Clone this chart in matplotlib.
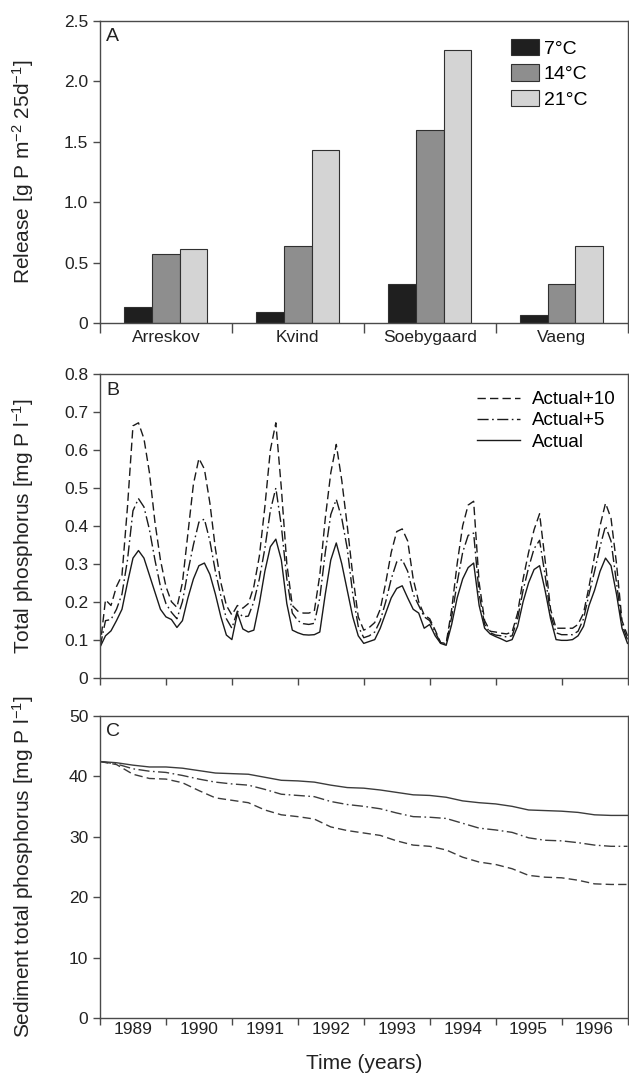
import numpy as np
import matplotlib
matplotlib.use("Agg")
import matplotlib.pyplot as plt
from matplotlib.patches import Patch
from matplotlib.lines import Line2D

plt.rcParams['font.family'] = ['Liberation Sans', 'DejaVu Sans']
plt.rcParams['mathtext.default'] = 'regular'

# ---- Panel A: phosphorus release per lake and temperature ----
lakes = ["Arreskov", "Kvind", "Soebygaard", "Vaeng"]
temps = ["7°C", "14°C", "21°C"]
release_7 = [0.13, 0.094, 0.319, 0.066]
release_14 = [0.567, 0.639, 1.600, 0.322]
release_21 = [0.611, 1.432, 2.258, 0.636]

# ---- Panel B: monthly lake total phosphorus, Jan 1989 .. Jan 1997 ----
tp_actual = [
    0.080, 0.110, 0.123, 0.150, 0.180, 0.250, 0.315, 0.335, 0.315, 0.270, 0.225, 0.180,
    0.160, 0.153, 0.132, 0.150, 0.210, 0.260, 0.295, 0.302, 0.272, 0.220, 0.160, 0.112,
    0.100, 0.170, 0.128, 0.120, 0.125, 0.195, 0.280, 0.345, 0.365, 0.310, 0.195, 0.125,
    0.118, 0.113, 0.112, 0.113, 0.120, 0.220, 0.310, 0.355, 0.300, 0.230, 0.160, 0.110,
    0.090, 0.095, 0.100, 0.130, 0.170, 0.210, 0.235, 0.242, 0.210, 0.180, 0.170, 0.130,
    0.140, 0.110, 0.090, 0.085, 0.140, 0.210, 0.260, 0.290, 0.302, 0.190, 0.130, 0.115,
    0.108, 0.102, 0.095, 0.100, 0.135, 0.200, 0.250, 0.285, 0.295, 0.230, 0.155, 0.100,
    0.098, 0.098, 0.100, 0.110, 0.135, 0.190, 0.230, 0.280, 0.315, 0.295, 0.220, 0.130,
    0.090,
]
tp_plus5 = [
    0.080, 0.150, 0.153, 0.180, 0.220, 0.310, 0.440, 0.472, 0.450, 0.390, 0.310, 0.240,
    0.195, 0.172, 0.155, 0.200, 0.280, 0.350, 0.410, 0.418, 0.360, 0.280, 0.215, 0.155,
    0.130, 0.175, 0.160, 0.162, 0.200, 0.260, 0.340, 0.440, 0.500, 0.400, 0.260, 0.170,
    0.150, 0.142, 0.140, 0.143, 0.210, 0.330, 0.430, 0.470, 0.420, 0.340, 0.220, 0.135,
    0.105, 0.110, 0.120, 0.150, 0.200, 0.260, 0.305, 0.311, 0.280, 0.220, 0.190, 0.160,
    0.150, 0.120, 0.090, 0.088, 0.160, 0.250, 0.330, 0.375, 0.381, 0.220, 0.140, 0.118,
    0.112, 0.110, 0.107, 0.110, 0.155, 0.230, 0.290, 0.340, 0.362, 0.270, 0.165, 0.118,
    0.113, 0.113, 0.113, 0.122, 0.155, 0.220, 0.280, 0.345, 0.400, 0.360, 0.250, 0.140,
    0.100,
]
tp_plus10 = [
    0.080, 0.205, 0.190, 0.240, 0.270, 0.450, 0.664, 0.672, 0.630, 0.540, 0.410, 0.310,
    0.240, 0.200, 0.185, 0.250, 0.380, 0.510, 0.578, 0.550, 0.460, 0.340, 0.250, 0.190,
    0.165, 0.190, 0.183, 0.195, 0.240, 0.320, 0.450, 0.600, 0.672, 0.500, 0.300, 0.190,
    0.175, 0.170, 0.170, 0.175, 0.270, 0.420, 0.540, 0.615, 0.520, 0.400, 0.270, 0.160,
    0.125, 0.132, 0.145, 0.180, 0.250, 0.330, 0.385, 0.392, 0.360, 0.260, 0.200, 0.165,
    0.155, 0.125, 0.092, 0.090, 0.180, 0.300, 0.400, 0.455, 0.465, 0.250, 0.150, 0.122,
    0.120, 0.117, 0.115, 0.120, 0.170, 0.260, 0.330, 0.390, 0.432, 0.310, 0.180, 0.130,
    0.130, 0.130, 0.130, 0.140, 0.170, 0.240, 0.320, 0.400, 0.460, 0.420, 0.300, 0.150,
    0.110,
]
months = 1989 + np.arange(len(tp_actual)) / 12.0

# ---- Panel C: quarterly sediment total phosphorus ----
sed_actual = [42.4, 42.2, 41.8, 41.5, 41.5, 41.3, 40.9, 40.5, 40.4, 40.3, 39.8, 39.3,
              39.2, 39.0, 38.5, 38.1, 38.0, 37.7, 37.3, 36.9, 36.8, 36.5, 35.9, 35.6,
              35.4, 35.0, 34.4, 34.3, 34.2, 34.0, 33.6, 33.5, 33.5]
sed_plus5 = [42.4, 42.0, 41.2, 40.8, 40.6, 40.1, 39.5, 39.0, 38.7, 38.5, 37.8, 37.0,
             36.8, 36.6, 35.8, 35.3, 35.0, 34.6, 33.9, 33.3, 33.2, 33.0, 32.2, 31.4,
             31.1, 30.7, 29.8, 29.4, 29.3, 29.0, 28.6, 28.4, 28.4]
sed_plus10 = [42.4, 41.9, 40.3, 39.6, 39.5, 38.9, 37.6, 36.4, 36.0, 35.6, 34.4, 33.6,
              33.3, 32.9, 31.6, 31.0, 30.6, 30.2, 29.3, 28.6, 28.4, 27.8, 26.6, 25.8,
              25.4, 24.7, 23.6, 23.3, 23.2, 22.8, 22.2, 22.1, 22.1]
quarters = 1989 + np.arange(len(sed_actual)) / 4.0

years = list(range(1989, 1997))
scenario_labels = ["Actual+10", "Actual+5", "Actual"]

# ---- styling ----
W, H = 629, 1076
fig = plt.figure(figsize=(W / 100, H / 100), dpi=100)
spine_col = '#4a4a4a'
text_col = '#222222'
tick_fs = 12.5
label_fs = 15
ylabel_x = -0.122
dash_style = (0, (6, 3))
dashdot_style = (0, (8, 2.5, 1.2, 2.5))


def make_axes(top_px, bottom_px):
    left = 100 / W
    width = 527.5 / W
    return fig.add_axes([left, 1 - bottom_px / H, width, (bottom_px - top_px) / H])


def style_axes(ax):
    for s in ax.spines.values():
        s.set_color(spine_col)
        s.set_linewidth(1.0)
    ax.tick_params(which='major', direction='out', length=5, width=1.0,
                   color=spine_col, labelsize=tick_fs, labelcolor=text_col)


# Panel A
axA = make_axes(20.7, 323)
x = np.arange(len(lakes))
bw = 0.21
bar_colors = ['#1f1f1f', '#8e8e8e', '#d4d4d4']
for k, (vals, col) in enumerate(zip([release_7, release_14, release_21], bar_colors)):
    axA.bar(x + (k - 1) * bw, vals, width=bw, color=col, edgecolor='#303030',
            linewidth=0.8, label=temps[k], zorder=2)
axA.set_xlim(-0.5, len(lakes) - 0.5)
axA.set_ylim(0, 2.5)
axA.set_yticks([0, 0.5, 1.0, 1.5, 2.0, 2.5])
axA.set_yticklabels(['0', '0.5', '1.0', '1.5', '2.0', '2.5'])
axA.set_xticks(np.arange(len(lakes) + 1) - 0.5)
axA.set_xticklabels([])
axA.set_xticks(x, minor=True)
axA.set_xticklabels(lakes, minor=True)
style_axes(axA)
axA.tick_params(axis='x', which='major', length=7)
axA.tick_params(axis='x', which='minor', length=0, pad=5, labelsize=tick_fs,
                labelcolor=text_col)
axA.set_ylabel('Release [g P m$^{-2}$ 25d$^{-1}$]', fontsize=label_fs, color=text_col)
axA.yaxis.set_label_coords(ylabel_x, 0.5)
axA.text(0.012, 0.975, 'A', transform=axA.transAxes, fontsize=14, va='top',
         ha='left', color=text_col)
handlesA = [Patch(facecolor=c, edgecolor='#303030', linewidth=0.8) for c in bar_colors]
axA.legend(handlesA, temps, loc='upper left', bbox_to_anchor=(0.78, 0.94),
           frameon=False, fontsize=14, handlelength=1.4, handleheight=0.9,
           labelspacing=0.35, handletextpad=0.25, borderpad=0, borderaxespad=0)

# Panel B
axB = make_axes(374.3, 677.5)
line_col = '#1a1a1a'
axB.plot(months, tp_plus10, color=line_col, lw=1.0, linestyle=dash_style)
axB.plot(months, tp_plus5, color=line_col, lw=1.0, linestyle=dashdot_style)
axB.plot(months, tp_actual, color=line_col, lw=1.0, linestyle='-')
axB.set_xlim(1989, 1997)
axB.set_ylim(0, 0.8)
axB.set_yticks(np.arange(0, 0.81, 0.1))
axB.set_yticklabels(['0'] + ['%.1f' % v for v in np.arange(0.1, 0.81, 0.1)])
axB.set_xticks(range(1989, 1998))
axB.set_xticklabels([])
style_axes(axB)
axB.set_ylabel('Total phosphorus [mg P l$^{-1}$]', fontsize=label_fs, color=text_col)
axB.yaxis.set_label_coords(ylabel_x, 0.5)
axB.text(0.012, 0.975, 'B', transform=axB.transAxes, fontsize=14, va='top',
         ha='left', color=text_col)
handlesB = [Line2D([], [], color=line_col, lw=1.0, linestyle=dash_style),
            Line2D([], [], color=line_col, lw=1.0, linestyle=dashdot_style),
            Line2D([], [], color=line_col, lw=1.0, linestyle='-')]
axB.legend(handlesB, scenario_labels, loc='upper left', bbox_to_anchor=(0.715, 0.945),
           frameon=False, fontsize=13.5, handlelength=2.3, labelspacing=0.22,
           handletextpad=0.6, borderpad=0, borderaxespad=0)

# Panel C
axC = make_axes(715.5, 1018.3)
sed_col = '#3c3c3c'
axC.plot(quarters, sed_plus10, color=sed_col, lw=1.0, linestyle=dash_style)
axC.plot(quarters, sed_plus5, color=sed_col, lw=1.0, linestyle=dashdot_style)
axC.plot(quarters, sed_actual, color=sed_col, lw=1.0, linestyle='-')
axC.set_xlim(1989, 1997)
axC.set_ylim(0, 50)
axC.set_yticks(range(0, 51, 10))
axC.set_xticks(range(1989, 1998))
axC.set_xticklabels([])
axC.set_xticks([y + 0.5 for y in years], minor=True)
axC.set_xticklabels([str(y) for y in years], minor=True)
style_axes(axC)
axC.tick_params(axis='x', which='minor', length=0, pad=3, labelsize=tick_fs,
                labelcolor=text_col)
axC.set_ylabel('Sediment total phosphorus [mg P l$^{-1}$]', fontsize=label_fs,
               color=text_col)
axC.yaxis.set_label_coords(ylabel_x, 0.5)
axC.set_xlabel('Time (years)', fontsize=label_fs, color=text_col, labelpad=12)
axC.text(0.012, 0.975, 'C', transform=axC.transAxes, fontsize=14, va='top',
         ha='left', color=text_col)

fig.savefig('out.png', dpi=100)
